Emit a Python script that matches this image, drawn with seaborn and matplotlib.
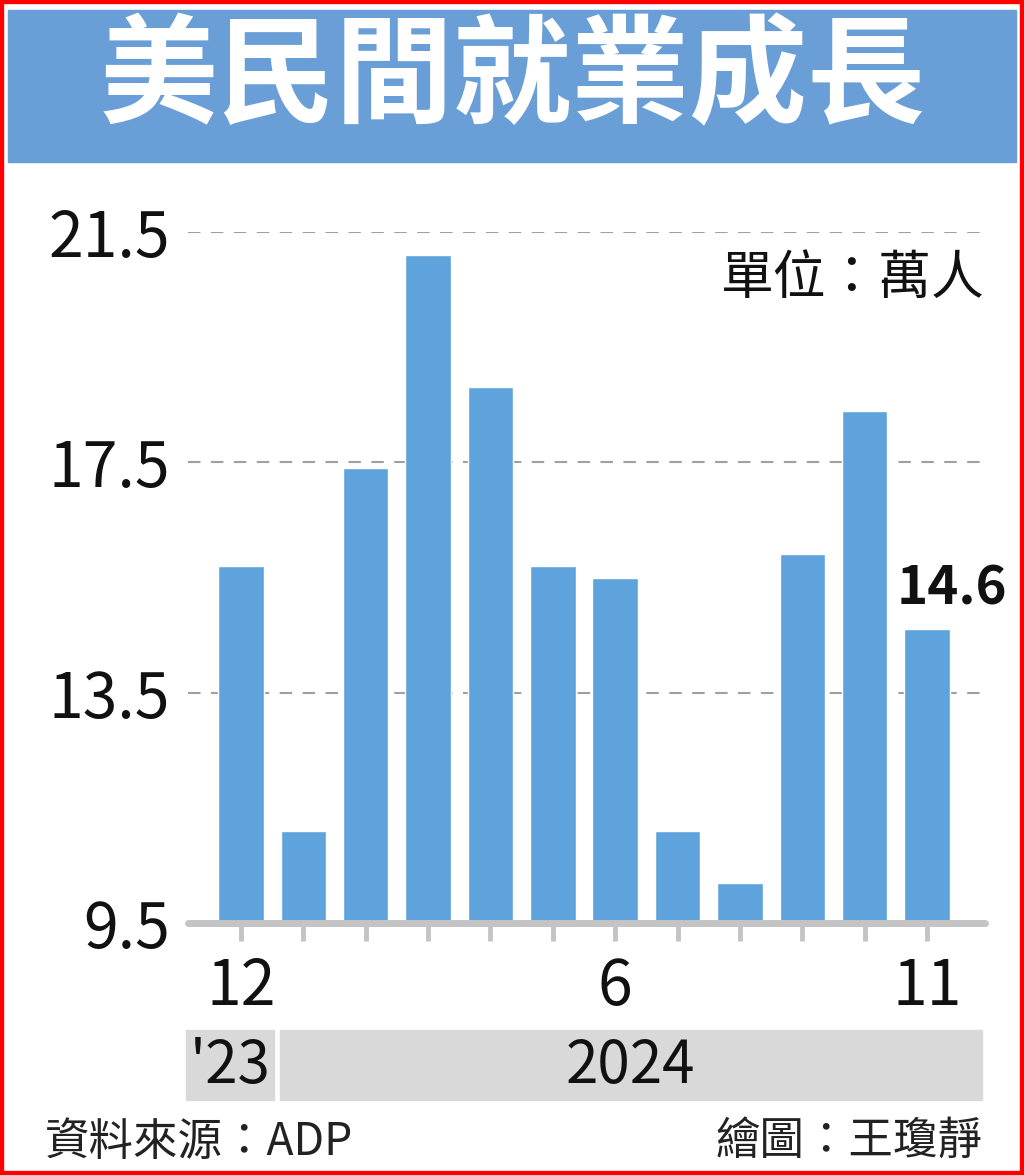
import matplotlib
matplotlib.use("Agg")
import matplotlib.pyplot as plt
from matplotlib.patches import Rectangle
import seaborn as sns

# ---------- Data ---------- #
months = ['12', '1', '2', '3', '4', '5', '6', '7', '8', '9', '10', '11']
jobs = [15.7, 11.1, 17.4, 21.1, 18.8, 15.7, 15.5, 11.1, 10.2, 15.9, 18.4, 14.6]
tickLabels = ['12', '', '', '', '', '', '6', '', '', '', '', '11']
yTicks = [9.5, 13.5, 17.5, 21.5]
yearLabels = ["'23", '2024']

barColor = '#5fa3dd'
headColor = '#6a9ed6'
grey = '#c4c4c4'

sns.set_theme(style="white")
plt.rcParams['font.family'] = ['Noto Sans CJK TC', 'DejaVu Sans']

W, H = 1024, 1175
fig = plt.figure(figsize=(W / 100, H / 100), dpi=100)

def fx(px):
    return px / W

def fy(py):
    return 1 - py / H

# ---------- Header ---------- #
fig.patches.append(Rectangle((fx(8), fy(162)), fx(1008), 152 / H,
                             transform=fig.transFigure, color=headColor, zorder=0))
fig.text(fx(513), fy(80), '美民間就業成長', color='white', fontsize=85,
         fontweight='bold', ha='center', va='center')

# ---------- Bars ---------- #
ax = fig.add_axes([fx(188), fy(923), fx(985 - 188), (923 - 232) / H])
sns.barplot(x=months, y=jobs, color=barColor, width=0.73, saturation=1, ax=ax, zorder=2)

ax.set_ylim(9.5, 21.5)
ax.set_xlim(-0.85, 11.93)
ax.set_yticks(yTicks)
ax.set_yticklabels([str(v) for v in yTicks])
ax.set_xticks(range(len(months)))
ax.set_xticklabels(tickLabels)
ax.set_xlabel('')
ax.set_ylabel('')
for s in ax.spines.values():
    s.set_visible(False)

# dashed guides and the thick grey base
ax.yaxis.grid(True, color='#a0a0a0', linestyle=(0, (6, 5)), linewidth=1.5, zorder=1)
ax.set_axisbelow(True)
ax.axhline(9.5, color=grey, linewidth=5, zorder=3, clip_on=False)

ax.tick_params(axis='y', length=0, pad=13, labelsize=45, labelcolor='#111111')
ax.tick_params(axis='x', bottom=True, length=13, width=3.5, color=grey, pad=10,
               labelsize=45, labelcolor='#111111')

ax.annotate(f'{jobs[-1]:.1f}', xy=(len(jobs) - 1, jobs[-1]), xytext=(18, 10),
            textcoords='offset points', ha='center', va='bottom',
            fontsize=38, fontweight='bold', color='#111111', annotation_clip=False)

fig.text(fx(985), fy(278), '單位：萬人', fontsize=38, ha='right', va='center',
         color='#111111')

# ---------- Year band ---------- #
fig.patches.append(Rectangle((fx(186), fy(1100)), fx(274 - 186), 70 / H,
                             transform=fig.transFigure, color='#d9d9d9', zorder=0))
fig.patches.append(Rectangle((fx(280), fy(1100)), fx(982 - 280), 70 / H,
                             transform=fig.transFigure, color='#d9d9d9', zorder=0))
fig.text(fx(230), fy(1066), yearLabels[0], fontsize=42, ha='center', va='center',
         color='#111111')
fig.text(fx(630), fy(1066), yearLabels[1], fontsize=42, ha='center', va='center',
         color='#111111')

# ---------- Footer ---------- #
fig.text(fx(45), fy(1142), '資料來源：ADP', fontsize=32, ha='left', va='center',
         color='#222222')
fig.text(fx(982), fy(1142), '繪圖：王瓊靜', fontsize=32, ha='right', va='center',
         color='#222222')

# red frame
fig.patches.append(Rectangle((0, 0), 1, 1, transform=fig.transFigure, fill=False,
                             edgecolor='#ff0000', linewidth=6, zorder=10))

fig.savefig('out.png', dpi=100)
plt.close()
